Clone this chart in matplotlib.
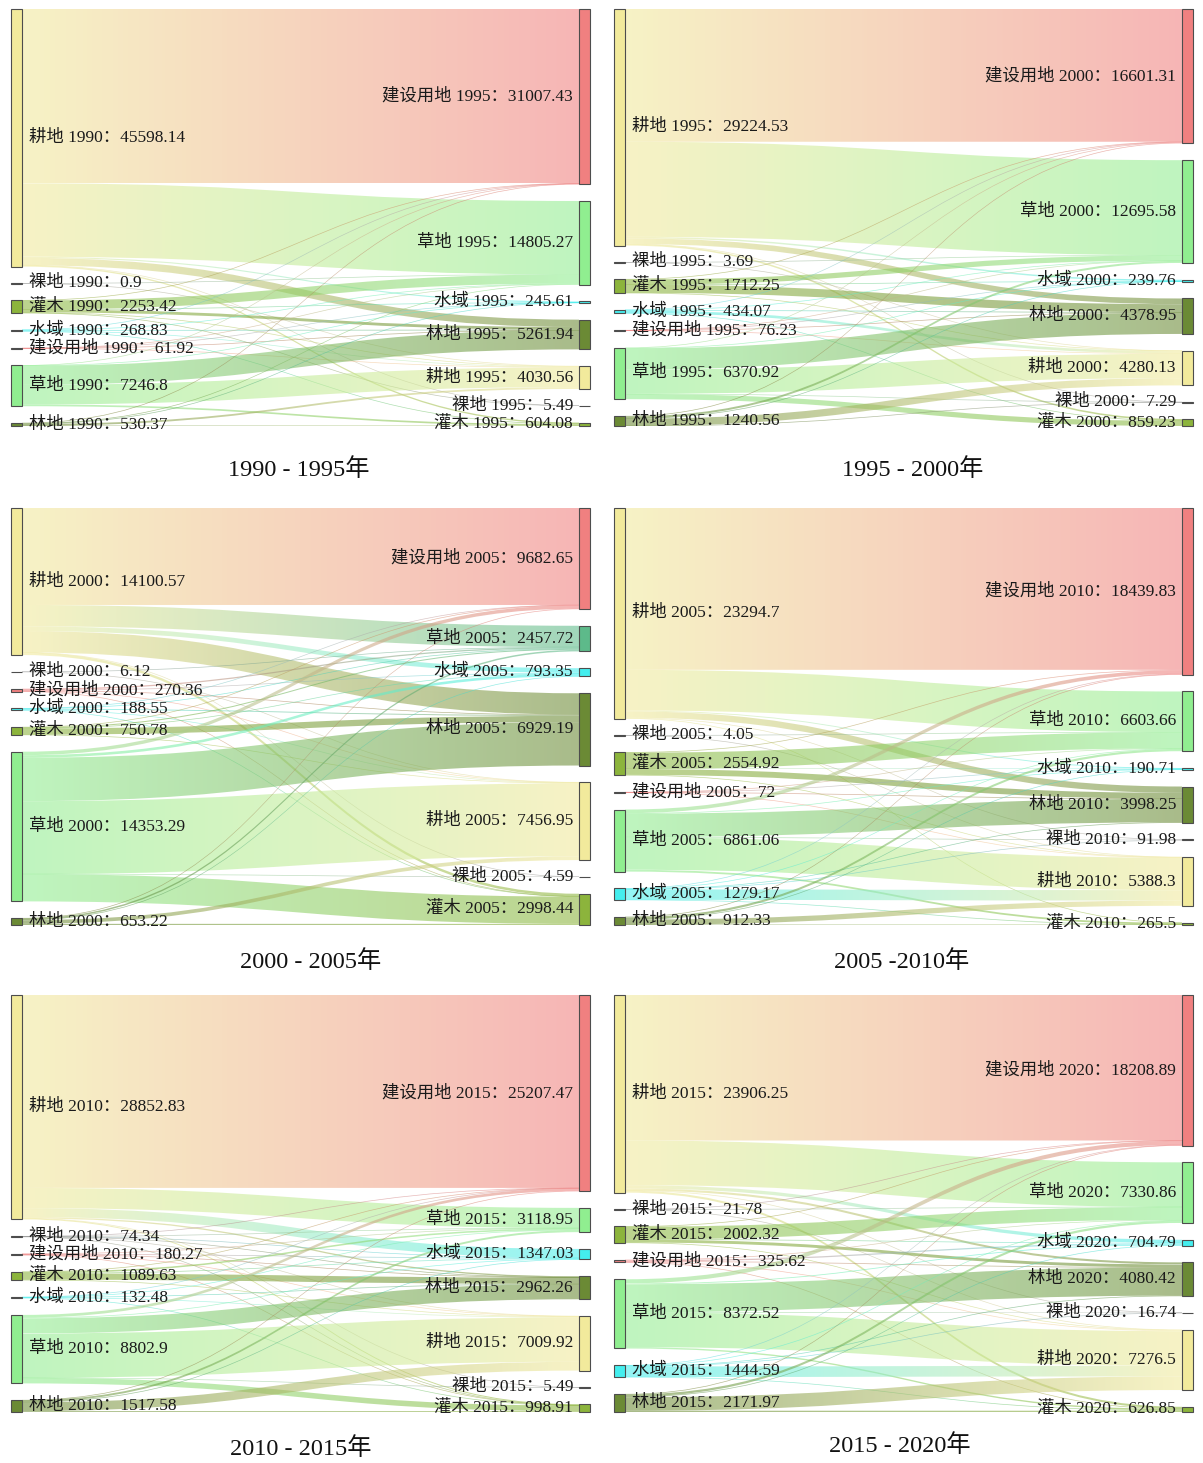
import numpy as np
import matplotlib.pyplot as plt
from matplotlib.path import Path
from matplotlib.patches import PathPatch, Rectangle
from matplotlib.colors import to_rgba

plt.rcParams['font.family'] = ['Liberation Serif', 'Noto Sans CJK SC', 'DejaVu Sans']

GD, LD, GM, SY, JS, CD, LI = '耕地', '裸地', '灌木', '水域', '建设用地', '草地', '林地'

colors = {GD: '#f2ea9c', LD: '#9a9a9a', GM: '#8cb43c', SY: '#44eeee',
          JS: '#f08080', CD: '#90ee90', LI: '#6b8a35'}

# ---- 1990 -> 1995 ----
left_1990 = [GD, LD, GM, SY, JS, CD, LI]
area_1990 = [45598.14, 0.9, 2253.42, 268.83, 61.92, 7246.8, 530.37]
right_1995 = [JS, CD, SY, LI, GD, LD, GM]
area_1995 = [31007.43, 14805.27, 245.61, 5261.94, 4030.56, 5.49, 604.08]
flow_1990_1995 = [
    [30850, 13000, 200, 1300, 0, 5, 243.14],
    [0, 0.5, 0, 0, 0.4, 0, 0],
    [40, 1600, 5, 500, 107.93, 0.49, 0],
    [20, 60, 0, 60, 100, 0, 28.83],
    [0, 20, 10, 10, 21.92, 0, 0],
    [60, 0, 20, 3391.94, 3474.86, 0, 300],
    [37.43, 124.77, 10.61, 0, 325.45, 0, 32.11],
]

# ---- 1995 -> 2000 ----
left_1995 = [GD, LD, GM, SY, JS, CD, LI]
area_1995b = [29224.53, 3.69, 1712.25, 434.07, 76.23, 6370.92, 1240.56]
right_2000 = [JS, CD, SY, LI, GD, LD, GM]
area_2000 = [16601.31, 12695.58, 239.76, 4378.95, 4280.13, 7.29, 859.23]
flow_1995_2000 = [
    [16400, 11744.34, 180, 700, 0, 5, 195.19],
    [0, 2, 0, 0, 1.69, 0, 0],
    [30, 650, 5, 1000, 27.25, 0, 0],
    [20, 30, 0, 30, 330, 0, 24.07],
    [0, 20, 10, 20, 26.23, 0, 0],
    [80, 0, 20, 2628.95, 3000, 2, 639.97],
    [71.31, 249.24, 24.76, 0, 894.96, 0.29, 0],
]

# ---- 2000 -> 2005 ----
left_2000 = [GD, LD, JS, SY, GM, CD, LI]
area_2000b = [14100.57, 6.12, 270.36, 188.55, 750.78, 14353.29, 653.22]
right_2005 = [JS, CD, SY, LI, GD, LD, GM]
area_2005 = [9682.65, 2457.72, 793.35, 6929.19, 7456.95, 4.59, 2998.44]
flow_2000_2005 = [
    [9300, 2050, 450, 2050, 0, 2, 248.57],
    [0, 3, 0, 0, 3.12, 0, 0],
    [0, 120, 60, 40, 40, 0, 10.36],
    [10, 40, 0, 80, 40, 0, 18.55],
    [20, 100, 10, 600, 20.78, 0, 0],
    [330, 0, 250, 4159.19, 7000, 2.59, 2611.51],
    [22.65, 144.72, 23.35, 0, 353.05, 0, 109.45],
]

# ---- 2005 -> 2010 ----
left_2005 = [GD, LD, GM, JS, CD, SY, LI]
area_2005b = [23294.7, 4.05, 2554.92, 72, 6861.06, 1279.17, 912.33]
right_2010 = [JS, CD, SY, LI, LD, GD, GM]
area_2010 = [18439.83, 6603.66, 190.71, 3998.25, 91.98, 5388.3, 265.5]
flow_2005_2010 = [
    [17900, 4500, 100, 700, 60, 0, 34.7],
    [0, 2, 0, 0, 0, 2.05, 0],
    [50, 1800, 10, 650, 0, 44.92, 0],
    [0, 20, 20, 10, 0, 22, 0],
    [400, 0, 50, 2600, 25, 3586.06, 200],
    [30, 40, 0, 38.25, 6.98, 1153.94, 10],
    [59.83, 241.66, 10.71, 0, 0, 579.33, 20.8],
]

# ---- 2010 -> 2015 ----
left_2010 = [GD, LD, JS, GM, SY, CD, LI]
area_2010b = [28852.83, 74.34, 180.27, 1089.63, 132.48, 8802.9, 1517.58]
right_2015 = [JS, CD, SY, LI, GD, LD, GM]
area_2015 = [25207.47, 3118.95, 1347.03, 2962.26, 7009.92, 5.49, 998.91]
flow_2010_2015 = [
    [24800, 2600, 1150, 169.83, 0, 3, 130],
    [30, 10, 2, 5, 25, 0, 2.34],
    [0, 30, 100, 10, 30, 0, 10.27],
    [10, 200, 5, 800, 74.63, 0, 0],
    [5, 30, 0, 20, 50, 0, 27.48],
    [350, 0, 80, 1957.43, 5700, 2.49, 712.98],
    [12.47, 248.95, 10.03, 0, 1130.29, 0, 115.84],
]

# ---- 2015 -> 2020 ----
left_2015 = [GD, LD, GM, JS, CD, SY, LI]
area_2015b = [23906.25, 21.78, 2002.32, 325.62, 8372.52, 1444.59, 2171.97]
right_2020 = [JS, CD, SY, LI, LD, GD, GM]
area_2020 = [18208.89, 7330.86, 704.79, 4080.42, 16.74, 7276.5, 626.85]
flow_2015_2020 = [
    [17600, 5400, 400, 250, 6, 0, 250.25],
    [5, 5, 0, 0, 0, 11.78, 0],
    [30, 1550, 10, 350, 0, 62.32, 0],
    [0, 50, 150, 20, 0, 80, 25.62],
    [500, 0, 100, 3400, 5, 4200, 167.52],
    [20, 50, 0, 60.42, 5.74, 1280, 28.43],
    [53.89, 275.86, 44.79, 0, 0, 1642.4, 155.03],
]

panels = [
    (1990, left_1990, area_1990, 1995, right_1995, area_1995, flow_1990_1995, '1990 - 1995年', {}),
    (1995, left_1995, area_1995b, 2000, right_2000, area_2000, flow_1995_2000, '1995 - 2000年', {}),
    (2000, left_2000, area_2000b, 2005, right_2005, area_2005, flow_2000_2005, '2000 - 2005年', {CD: '#5dba8a'}),
    (2005, left_2005, area_2005b, 2010, right_2010, area_2010, flow_2005_2010, '2005 -2010年', {}),
    (2010, left_2010, area_2010b, 2015, right_2015, area_2015, flow_2010_2015, '2010 - 2015年', {}),
    (2015, left_2015, area_2015b, 2020, right_2020, area_2020, flow_2015_2020, '2015 - 2020年', {}),
]

# layout in pixels
FW, FH = 1203, 1463
NODE_W = 11
PANEL_W, PANEL_H = 579, 417
PAD = 16.8
col_x = [11, 614]
row_y = [9, 508, 995]
title_pos = [(299, 470), (913, 470), (311, 962), (902, 962), (301, 1449), (900, 1446)]
LINK_ALPHA = 0.58


def fmt(v):
    return ('%.2f' % v).rstrip('0').rstrip('.')


def stack(vals, k):
    tops, y = [], 0.0
    for v in vals:
        tops.append(y)
        y += v * k + PAD
    return tops


def ribbon(ax, x0, x1, a, b, wd, c0, c1):
    xm = (x0 + x1) / 2
    verts = [(x0, a), (xm, a), (xm, b), (x1, b),
             (x1, b + wd), (xm, b + wd), (xm, a + wd), (x0, a + wd), (x0, a)]
    codes = [Path.MOVETO, Path.CURVE4, Path.CURVE4, Path.CURVE4,
             Path.LINETO, Path.CURVE4, Path.CURVE4, Path.CURVE4, Path.CLOSEPOLY]
    patch = PathPatch(Path(verts, codes), facecolor='none', edgecolor='none',
                      transform=ax.transData)
    ax.add_patch(patch)
    t = np.linspace(0, 1, 128)[:, None]
    rgba = (1 - t) * np.array(to_rgba(c0)) + t * np.array(to_rgba(c1))
    rgba[:, 3] = LINK_ALPHA
    im = ax.imshow(rgba[None, :, :], extent=(x0, x1, min(a, b), max(a, b) + wd),
                   aspect='auto', interpolation='bilinear', zorder=1)
    im.set_clip_path(patch)


def draw_sankey(ax, ly, lnames, lvals, ry, rnames, rvals, flow, override):
    flow = np.asarray(flow, float)
    col = lambda n, side: override.get(n, colors[n]) if side == 'r' else colors[n]
    k = (PANEL_H - PAD * (len(lvals) - 1)) / sum(lvals)
    ltop, rtop = stack(lvals, k), stack(rvals, k)
    lcur, rcur = list(ltop), list(rtop)
    x0, x1 = NODE_W, PANEL_W - NODE_W
    for i in range(len(lnames)):
        for j in range(len(rnames)):
            v = flow[i, j]
            if v <= 0:
                continue
            w = v * k
            a, b = lcur[i], rcur[j]
            lcur[i] += w
            rcur[j] += w
            wd = max(w, 0.7)
            ribbon(ax, x0, x1, a + (w - wd) / 2, b + (w - wd) / 2, wd,
                   col(lnames[i], 'l'), col(rnames[j], 'r'))

    for names, vals, tops, x, year, side in [(lnames, lvals, ltop, 0, ly, 'l'),
                                              (rnames, rvals, rtop, x1, ry, 'r')]:
        for n, v, t in zip(names, vals, tops):
            h = v * k
            ax.add_patch(Rectangle((x, t), NODE_W, max(h, 0.5), facecolor=col(n, side),
                                   edgecolor='#4d4d4d', lw=0.8, zorder=3, clip_on=False))
            label = f'{n} {year}：{fmt(v)}'
            if side == 'l':
                ax.text(NODE_W + 7, t + h / 2, label, ha='left', va='center',
                        fontsize=12.5, color='#1a1a1a', zorder=4)
            else:
                ax.text(x1 - 6, t + h / 2, label, ha='right', va='center',
                        fontsize=12.5, color='#1a1a1a', zorder=4)


fig = plt.figure(figsize=(FW / 100, FH / 100), dpi=100)
for idx, (ly, ln, lv, ry, rn, rv, fl, title, ov) in enumerate(panels):
    px, py = col_x[idx % 2], row_y[idx // 2]
    ax = fig.add_axes([px / FW, 1 - (py + PANEL_H) / FH, PANEL_W / FW, PANEL_H / FH])
    draw_sankey(ax, ly, ln, lv, ry, rn, rv, fl, ov)
    ax.set_xlim(0, PANEL_W)
    ax.set_ylim(PANEL_H, 0)
    ax.axis('off')
    tx, ty = title_pos[idx]
    fig.text(tx / FW, 1 - ty / FH, title, ha='center', va='center',
             fontsize=17.5, color='#111111')

fig.savefig('out.png', dpi=100)
